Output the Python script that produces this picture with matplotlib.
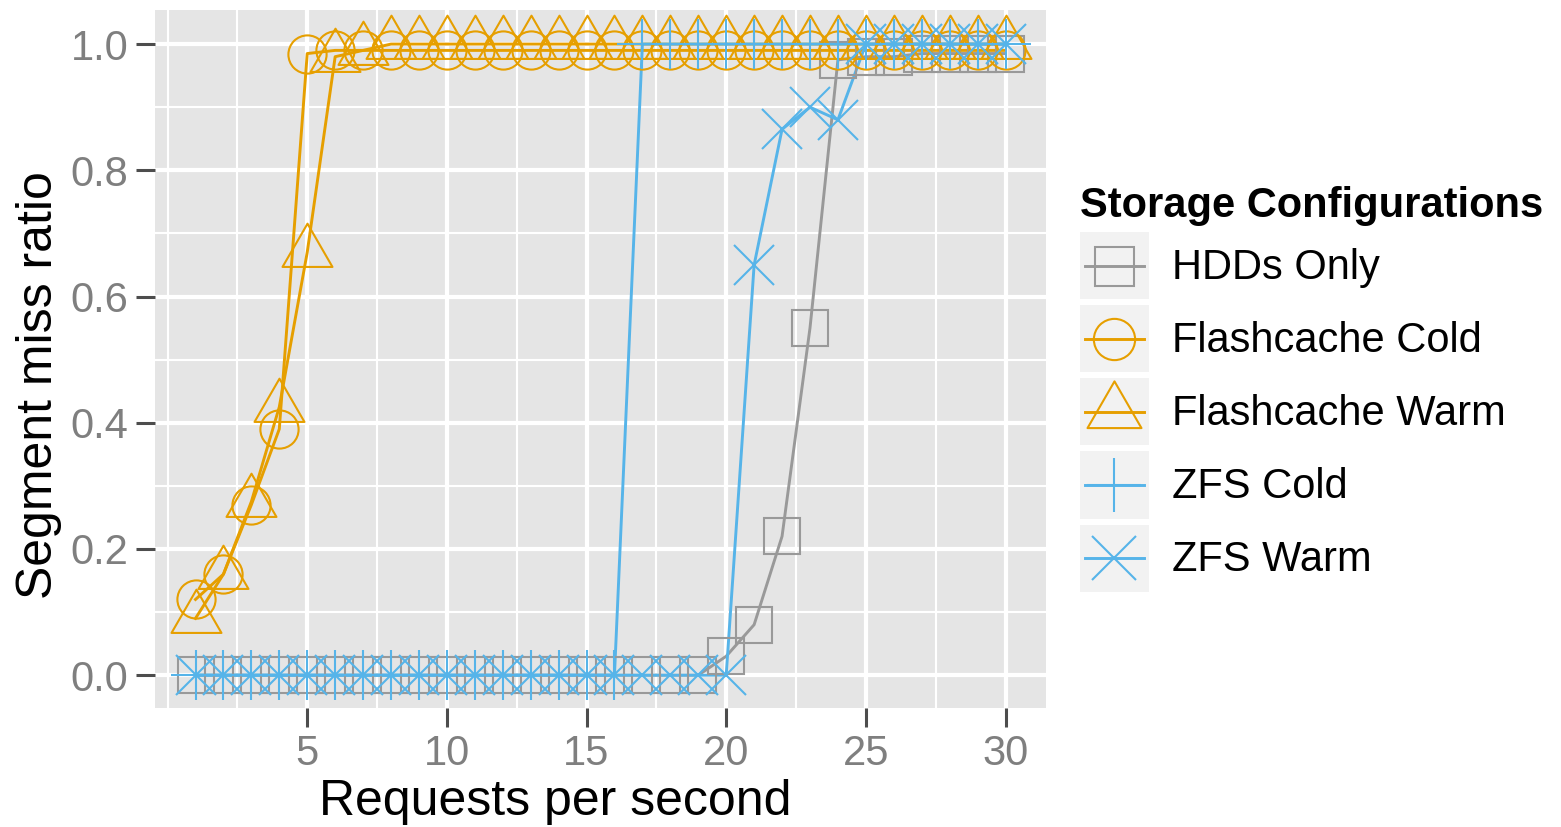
import numpy as np
import matplotlib
matplotlib.use("Agg")
import matplotlib.pyplot as plt
from matplotlib.lines import Line2D
from matplotlib.patches import Rectangle
from matplotlib.path import Path
from matplotlib.legend_handler import HandlerLine2D

plt.rcParams['font.family'] = ['Liberation Sans', 'DejaVu Sans']

# request rates and miss ratios per storage configuration
requests = list(range(1, 31))
hdds_only = [0.0] * 19 + [0.03, 0.08, 0.22, 0.55, 0.975, 0.98, 0.98, 0.985, 0.985, 0.985, 0.985]
flash_cold = [0.12, 0.16, 0.27, 0.39, 0.985] + [0.99] * 25
flash_warm = [0.09, 0.16, 0.275, 0.425, 0.67, 0.98, 0.99] + [1.0] * 23
zfs_cold = [0.0] * 16 + [1.0] * 14
zfs_warm = [0.0] * 20 + [0.65, 0.865, 0.90, 0.88] + [1.0] * 6

labels = ['HDDs Only', 'Flashcache Cold', 'Flashcache Warm', 'ZFS Cold', 'ZFS Warm']
colors = ['#999999', '#E69F00', '#E69F00', '#56B4E9', '#56B4E9']

# equilateral triangle centred on its centroid (like R's pch 2)
tri = Path([(0, 0.577), (-0.5, -0.289), (0.5, -0.289), (0, 0.577)],
           [Path.MOVETO, Path.LINETO, Path.LINETO, Path.CLOSEPOLY])
markers = ['s', 'o', tri, '+', 'x']
msizes = [26, 27.5, 41.5, 36, 29]

series = [hdds_only, flash_cold, flash_warm, zfs_cold, zfs_warm]

W, H = 1561, 827
fig = plt.figure(figsize=(W / 100, H / 100), dpi=100)
ax = fig.add_axes([155 / W, 1 - 708 / H, 891 / W, 698 / H])
ax.set_facecolor('#E5E5E5')

# lines underneath, points on top
for ys, c in zip(series, colors):
    ax.plot(requests, ys, color=c, lw=2.1, zorder=3)
for ys, c, m, s in zip(series, colors, markers, msizes):
    ax.plot(requests, ys, ls='none', marker=m, ms=s, mew=1.5,
            mfc='none', mec=c, zorder=4)

ax.set_xlim(-0.45, 31.45)
ax.set_ylim(-0.052, 1.054)
ax.set_xticks([5, 10, 15, 20, 25, 30])
ax.set_xticks([0, 2.5, 7.5, 12.5, 17.5, 22.5, 27.5], minor=True)
ax.set_yticks([0.0, 0.2, 0.4, 0.6, 0.8, 1.0])
ax.set_yticks([0.1, 0.3, 0.5, 0.7, 0.9], minor=True)
ax.set_yticklabels(['0.0', '0.2', '0.4', '0.6', '0.8', '1.0'])
ax.grid(which='major', color='white', lw=3.0, zorder=1)
ax.grid(which='minor', color='white', lw=1.5, zorder=1)
ax.set_axisbelow(True)
for sp in ax.spines.values():
    sp.set_visible(False)
ax.tick_params(which='major', length=14, width=2.2, color='#4D4D4D',
               labelsize=30, labelcolor='#7F7F7F', pad=5)
ax.tick_params(which='minor', length=0)

ax.set_xlabel('Requests per second', fontsize=36, va='baseline')
ax.xaxis.set_label_coords((555.5 - 155) / 891, (708 - 815) / 698)
ax.set_ylabel('Segment miss ratio', fontsize=36)
ax.yaxis.set_label_coords((62 - 155) / 891, (708 - 385) / 698)


class KeyHandler(HandlerLine2D):
    # grey key square with the line and point centred in it
    def create_artists(self, legend, orig_handle, xdescent, ydescent,
                       width, height, fontsize, trans):
        x0, y0 = -xdescent, -ydescent
        cy = y0 + height / 2
        bg = Rectangle((x0, y0), width, height, facecolor='#F2F2F2',
                       edgecolor='none', transform=trans)
        c = orig_handle.get_color()
        ln = Line2D([x0 + 0.07 * width, x0 + 0.93 * width], [cy, cy],
                    color=c, lw=orig_handle.get_linewidth(), transform=trans)
        mk = Line2D([x0 + width / 2], [cy], ls='none',
                    marker=orig_handle.get_marker(),
                    ms=orig_handle.get_markersize() * 1.08,
                    mew=orig_handle.get_markeredgewidth(),
                    mfc='none', mec=c, transform=trans)
        return [bg, ln, mk]


handles = [Line2D([], [], color=c, lw=2.1, marker=m, ms=s, mew=1.5,
                  mfc='none', mec=c)
           for c, m, s in zip(colors, markers, msizes)]
fig.legend(handles, labels, loc='upper left',
           bbox_to_anchor=(1080 / W, 1 - 186 / H), frameon=False,
           title='Storage Configurations',
           title_fontproperties={'weight': 'bold', 'size': 30},
           fontsize=30, handlelength=1.655, handleheight=2.1,
           labelspacing=0.145, handletextpad=0.55, borderpad=0,
           borderaxespad=0, alignment='left', numpoints=1,
           handler_map={Line2D: KeyHandler()})

fig.savefig('out.png', dpi=100)
